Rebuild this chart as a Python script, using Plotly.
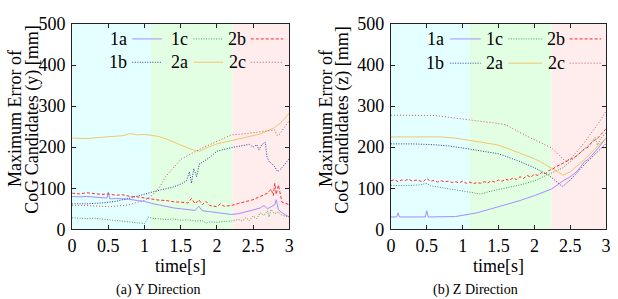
import plotly.graph_objects as go

W, H = 618, 299

names = ["1a", "1b", "1c", "2a", "2b", "2c"]

# ---- (a) Y direction: (time [s], max error [mm]) ----
y_1a = [(0,80),(0.1,79),(0.2,80),(0.3,78),(0.4,77),(0.48,76),(0.5,90),(0.52,74),(0.6,75),(0.7,74),(0.8,73),(0.9,70),
        (1.0,68),(1.1,63),(1.2,59),(1.3,55),(1.4,52),(1.5,50),(1.6,48),(1.7,46),(1.75,56),(1.8,45),(1.9,43),(2.0,41),
        (2.1,38),(2.2,36),(2.3,38),(2.4,42),(2.5,47),(2.6,52),(2.65,58),(2.7,50),(2.75,55),(2.8,60),(2.82,72),(2.85,48),
        (2.9,40),(2.95,34),(3.0,30)]
y_1b = [(0,62),(0.2,62),(0.4,64),(0.6,68),(0.8,76),(1.0,86),(1.2,95),(1.4,103),(1.5,110),(1.58,118),(1.62,140),(1.65,112),
        (1.68,148),(1.72,128),(1.76,160),(1.8,163),(1.9,175),(2.0,190),(2.1,195),(2.2,199),(2.3,202),(2.4,205),(2.45,207),
        (2.5,200),(2.55,206),(2.58,193),(2.62,206),(2.67,212),(2.69,178),(2.72,165),(2.76,160),(2.8,152),(2.84,140),
        (2.9,150),(2.95,162),(3.0,172)]
y_1c = [(0,28),(0.1,27),(0.2,26),(0.3,27),(0.4,25),(0.5,24),(0.6,22),(0.7,20),(0.8,18),(0.9,16),(1.0,14),(1.03,22),(1.05,30),
        (1.1,27),(1.2,26),(1.3,24),(1.4,25),(1.5,22),(1.6,23),(1.7,20),(1.8,21),(1.85,15),(1.9,18),(2.0,17),(2.1,19),(2.2,20),
        (2.3,24),(2.35,20),(2.4,28),(2.45,22),(2.5,32),(2.55,26),(2.6,40),(2.65,34),(2.7,45),(2.72,30),(2.75,48),(2.8,38),
        (2.85,42),(2.9,34),(3.0,30)]
y_2a = [(0,222),(0.2,221),(0.4,224),(0.6,226),(0.7,228),(0.8,233),(0.9,230),(1.0,231),(1.1,229),(1.2,226),(1.3,220),(1.4,212),
        (1.5,205),(1.6,198),(1.7,192),(1.76,190),(1.85,198),(2.0,208),(2.2,216),(2.4,224),(2.6,232),(2.8,248),(2.9,262),(3.0,283)]
y_2b = [(0,88),(0.1,86),(0.2,89),(0.3,87),(0.4,85),(0.5,86),(0.6,83),(0.7,84),(0.8,80),(0.9,79),(1.0,76),(1.1,73),(1.2,71),
        (1.3,70),(1.4,67),(1.5,66),(1.6,64),(1.65,75),(1.7,62),(1.75,72),(1.8,60),(1.85,68),(1.9,58),(2.0,55),(2.05,62),
        (2.1,56),(2.2,58),(2.3,63),(2.4,68),(2.5,72),(2.6,80),(2.7,88),(2.75,98),(2.78,82),(2.8,112),(2.82,85),(2.85,108),
        (2.88,78),(2.9,66),(3.0,60)]
y_2c = [(0,58),(0.2,58),(0.4,56),(0.5,55),(0.6,56),(0.8,60),(0.9,66),(1.0,70),(1.1,82),(1.2,100),(1.3,130),(1.4,150),(1.5,170),
        (1.6,180),(1.7,190),(1.8,198),(1.9,206),(2.0,214),(2.1,222),(2.2,230),(2.4,233),(2.6,238),(2.8,242),(2.83,228),
        (2.87,232),(2.92,245),(3.0,265)]

# ---- (b) Z direction ----
z_1a = [(0,30),(0.08,30),(0.1,40),(0.12,30),(0.48,30),(0.5,45),(0.52,30),(0.8,30),(0.9,31),(1.0,34),(1.2,40),(1.4,50),
        (1.6,60),(1.8,70),(2.0,82),(2.24,98),(2.4,118),(2.5,128),(2.6,142),(2.7,165),(2.75,170),(2.8,180),(2.9,200),(3.0,223)]
z_1b = [(0,208),(0.3,208),(0.6,206),(0.8,203),(1.0,198),(1.2,193),(1.5,184),(1.8,165),(2.0,150),(2.2,132),(2.3,118),
        (2.39,104),(2.5,120),(2.6,140),(2.7,158),(2.8,175),(2.9,192),(3.0,209)]
z_1c = [(0,107),(0.2,106),(0.4,108),(0.5,112),(0.55,106),(0.7,102),(0.9,95),(1.1,90),(1.25,86),(1.4,93),(1.6,100),(1.8,108),
        (2.0,118),(2.24,138),(2.4,150),(2.5,165),(2.6,180),(2.7,195),(2.8,212),(2.85,225),(2.88,205),(2.92,220),(3.0,235)]
z_2a = [(0,225),(0.4,226),(0.7,225),(0.9,222),(1.1,217),(1.3,211),(1.5,205),(1.7,192),(1.9,180),(2.0,172),(2.1,163),
        (2.24,148),(2.4,132),(2.5,140),(2.6,155),(2.7,170),(2.8,188),(2.9,205),(3.0,223)]
z_2b = [(0,118),(0.05,121),(0.1,116),(0.15,120),(0.2,119),(0.25,122),(0.3,117),(0.35,120),(0.4,118),(0.45,116),(0.5,124),
        (0.55,117),(0.6,119),(0.65,115),(0.7,118),(0.75,116),(0.8,117),(0.85,114),(0.9,116),(0.95,113),(1.0,117),(1.05,112),
        (1.1,115),(1.15,111),(1.2,114),(1.25,112),(1.3,116),(1.35,113),(1.4,118),(1.45,115),(1.5,120),(1.55,117),(1.6,122),
        (1.65,119),(1.7,125),(1.75,121),(1.8,128),(1.85,124),(1.9,131),(1.95,127),(2.0,134),(2.05,131),(2.1,138),(2.15,135),
        (2.2,143),(2.25,146),(2.3,152),(2.4,160),(2.5,170),(2.6,180),(2.7,196),(2.75,200),(2.8,212),(2.85,218),(2.9,225),
        (2.95,235),(3.0,245)]
z_2c = [(0,278),(0.3,278),(0.6,277),(0.8,273),(1.0,268),(1.2,264),(1.4,260),(1.6,255),(1.7,245),(1.8,235),(1.94,223),
        (2.1,210),(2.24,198),(2.35,180),(2.43,166),(2.5,172),(2.6,190),(2.7,212),(2.8,235),(2.9,260),(3.0,288)]

y_series = [y_1a, y_1b, y_1c, y_2a, y_2b, y_2c]
z_series = [z_1a, z_1b, z_1c, z_2a, z_2b, z_2c]

phase_edges_y = [0, 1.09, 2.22, 3]
phase_edges_z = [0, 1.10, 2.24, 3]
x_ticks = [0, 0.5, 1, 1.5, 2, 2.5, 3]
x_ticktext = ["0", "0.5", "1", "1.5", "2", "2.5", "3"]
y_ticks = [0, 100, 200, 300, 400, 500]

styles = {
    "1a": dict(color="#a58cff", dash="solid"),
    "1b": dict(color="#2b3a9c", dash="1px,1.5px"),
    "1c": dict(color="#4a9a52", dash="1px,1.5px"),
    "2a": dict(color="#f2c56e", dash="solid"),
    "2b": dict(color="#ff2a2a", dash="3px,2px"),
    "2c": dict(color="#c05a5a", dash="1px,2px"),
}
phase_colors = ["#e3ffff", "#e3ffe3", "#ffecec"]
FONT = "Liberation Serif, Times New Roman, serif"

def px(x):
    return x / W

def py(y):
    return 1 - y / H

fig = go.Figure()

panels = [
    dict(series=y_series, edges=phase_edges_y, xa="x", ya="y", dom=(69, 289),
         title1="Maximum Error of", title2="CoG Candidates (y) [mm]", tx=(11, 28),
         caption="(a) Y Direction", cx=156,
         leg_text=[127, 188, 247], leg_line=[(130, 160), (192, 222), (250, 283)], leg_rows=[31, 56]),
    dict(series=z_series, edges=phase_edges_z, xa="x2", ya="y2", dom=(392, 610),
         title1="Maximum Error of", title2="CoG Candidates (z) [mm]", tx=(326, 343),
         caption="(b) Z Direction", cx=478,
         leg_text=[448, 508, 570], leg_line=[(452, 483), (511, 545), (573, 605)], leg_rows=[31, 57]),
]

shapes = []
annotations = []
for p in panels:
    for i in range(3):
        shapes.append(dict(type="rect", xref=p["xa"], yref=p["ya"], x0=p["edges"][i], x1=p["edges"][i + 1],
                           y0=0, y1=500, fillcolor=phase_colors[i], line=dict(width=0), layer="below"))
    for name, ser in zip(names, p["series"]):
        st = styles[name]
        fig.add_trace(go.Scatter(x=[a for a, b in ser], y=[b for a, b in ser], mode="lines", name=name,
                                 xaxis=p["xa"], yaxis=p["ya"], showlegend=False,
                                 line=dict(color=st["color"], dash=st["dash"], width=1)))
    # custom legend (label left, sample right), 3 columns x 2 rows
    for k, name in enumerate(names):
        col, row = k // 2, k % 2
        yy = p["leg_rows"][row]
        annotations.append(dict(text=name, xref="paper", yref="paper", x=px(p["leg_text"][col]), y=py(yy),
                                xanchor="right", yanchor="middle", showarrow=False,
                                font=dict(family=FONT, size=18, color="black")))
        x0, x1 = p["leg_line"][col]
        st = styles[name]
        shapes.append(dict(type="line", xref="paper", yref="paper", x0=px(x0), x1=px(x1), y0=py(yy), y1=py(yy),
                           line=dict(color=st["color"], dash=st["dash"], width=1)))
    annotations.append(dict(text=p["title1"], xref="paper", yref="paper", x=px(p["tx"][0]), y=py(116),
                            textangle=-90, showarrow=False, xanchor="center", yanchor="middle",
                            font=dict(family=FONT, size=18, color="black")))
    annotations.append(dict(text=p["title2"], xref="paper", yref="paper", x=px(p["tx"][1]), y=py(118),
                            textangle=-90, showarrow=False, xanchor="center", yanchor="middle",
                            font=dict(family=FONT, size=18, color="black")))
    annotations.append(dict(text=p["caption"], xref="paper", yref="paper", x=px(p["cx"]), y=py(289),
                            showarrow=False, xanchor="center", yanchor="top",
                            font=dict(family=FONT, size=14, color="black")))
    annotations.append(dict(text="time[s]", xref="paper", yref="paper", x=px((p["dom"][0] + p["dom"][1]) / 2),
                            y=py(262), showarrow=False, xanchor="center", yanchor="top",
                            font=dict(family=FONT, size=18, color="black")))

axis_common = dict(showline=True, linecolor="#222", linewidth=1, mirror="ticks", ticks="inside", ticklen=4,
                   tickcolor="#222", showgrid=False, zeroline=False,
                   tickfont=dict(family=FONT, size=18, color="black"))
ydom = [py(235), py(15)]
fig.update_layout(
    width=W, height=H, margin=dict(l=0, r=0, t=0, b=0),
    paper_bgcolor="white", plot_bgcolor="white",
    font=dict(family=FONT, color="black"),
    xaxis=dict(domain=[px(69), px(289)], range=[0, 3], tickvals=x_ticks, ticktext=x_ticktext, anchor="y", **axis_common),
    yaxis=dict(domain=ydom, range=[0, 500], tickvals=y_ticks, anchor="x", ticklabelstandoff=2, **axis_common),
    xaxis2=dict(domain=[px(392), px(610)], range=[0, 3], tickvals=x_ticks, ticktext=x_ticktext, anchor="y2", **axis_common),
    yaxis2=dict(domain=ydom, range=[0, 500], tickvals=y_ticks, anchor="x2", ticklabelstandoff=2, **axis_common),
    shapes=shapes, annotations=annotations,
)

fig.write_html("out.html")
